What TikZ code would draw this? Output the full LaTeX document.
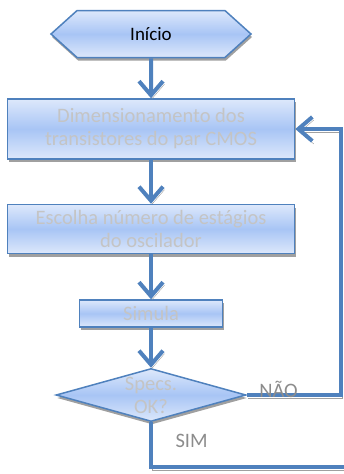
\documentclass[tikz,border=0pt]{standalone}
\usepackage{fontspec}
\setmainfont{Carlito}
\usetikzlibrary{shapes,arrows.meta,positioning,shadows}

\definecolor{lineblue}{HTML}{4F81BD}
\definecolor{fillpale}{HTML}{DDE8FB}
\definecolor{fillblue}{HTML}{A8C5F5}
\definecolor{shadowgrey}{HTML}{A0A0A0}
\definecolor{textgrey}{HTML}{C4C4C4}

\begin{document}
\begin{tikzpicture}[
  x=1pt, y=1pt,
  font=\fontsize{20.5}{23}\selectfont,
  base/.style={draw=lineblue, line width=1.5pt, align=center, text=textgrey,
    top color=fillpale, bottom color=fillpale, middle color=fillblue,
    drop shadow={shadow xshift=1pt, shadow yshift=-3pt, fill=shadowgrey, opacity=1}},
  block/.style={base, rectangle, minimum width=287pt},
  terminal/.style={base, signal, signal to=west and east, signal pointer angle=84,
    minimum width=200pt, minimum height=47pt, text=black, font=\fontsize{19}{23}\selectfont},
  decision/.style={base, diamond, aspect=3.6, inner xsep=0pt, inner ysep=-6pt,
    minimum width=190pt, minimum height=53pt},
  link/.style={line width=4pt, draw=lineblue,
    preaction={draw=shadowgrey, transform canvas={shift={(1.5pt,-3pt)}}}},
  flow/.style={link, -{Straight Barb[length=14pt, width=24pt]}},
  tag/.style={text=black!45}
  ]
  \path[use as bounding box, clip] (0,0) rectangle (344,-474);

  \node[terminal] (start) at (151,-34) {Início};
  \node[block, minimum height=60pt, below=40pt of start] (dim) {Dimensionamento dos\\transistores do par CMOS};
  \node[block, minimum height=49pt, below=44pt of dim] (stages) {Escolha número de estágios\\do oscilador};
  \node[block, minimum width=143pt, minimum height=27pt, inner sep=0pt, below=45pt of stages] (sim) {Simula};
  \node[decision, below=40pt of sim] (check) {Specs.\\OK?};

  \draw[flow] (start) -- (dim);
  \draw[flow] (dim) -- (stages);
  \draw[flow] (stages) -- (sim);
  \draw[flow] (sim) -- (check);

  % NAO goes back up to the sizing step
  \coordinate (back) at (341,0);
  \draw[flow] (check.east) -- (check.east -| back) |- (dim.east);
  \node[tag, anchor=base west] (no) at ([xshift=9pt, yshift=-2pt]check.east) {NÃO};

  % SIM leaves the chart
  \coordinate (out) at (360,-467);
  \draw[link] (check.south) |- (out);
  \node[tag, anchor=base west] (yes) at ([xshift=21pt, yshift=-25pt]check.south) {SIM};
\end{tikzpicture}
\end{document}
